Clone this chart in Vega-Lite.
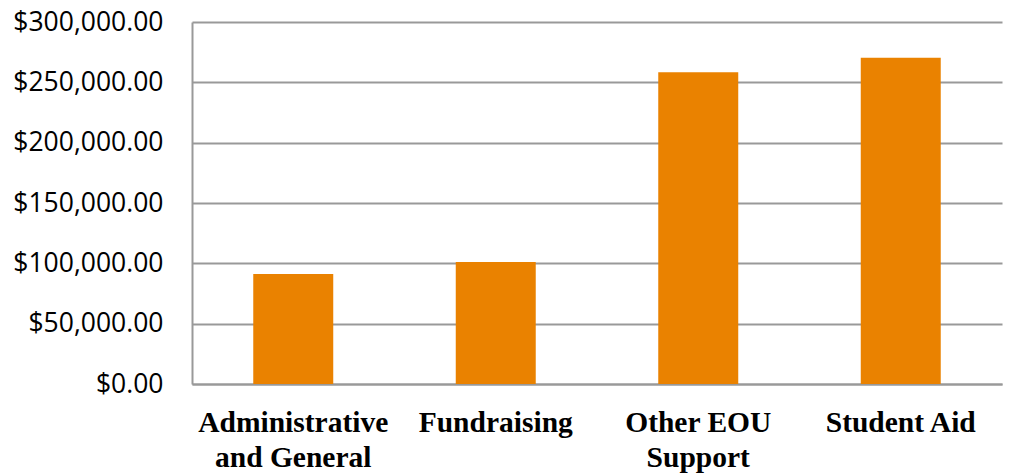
{
  "$schema": "https://vega.github.io/schema/vega-lite/v6.json",
  "autosize": {"type": "none"},
  "width": 810,
  "height": 362,
  "padding": {"left": 192, "top": 22, "right": 12, "bottom": 92},
  "background": "white",
  "data": {
    "values": [
      {"category": "Administrative and General", "amount": 91200},
      {"category": "Fundraising", "amount": 101100},
      {"category": "Other EOU Support", "amount": 258300},
      {"category": "Student Aid", "amount": 270400}
    ]
  },
  "mark": {"type": "bar", "color": "#EA8200"},
  "encoding": {
    "x": {
      "field": "category",
      "type": "nominal",
      "sort": null,
      "scale": {"paddingInner": 0.605, "paddingOuter": 0.3025},
      "axis": {
        "title": null,
        "labelAngle": 0,
        "labelFont": "Liberation Serif",
        "labelFontWeight": "bold",
        "labelFontSize": 29.5,
        "labelColor": "#000000",
        "labelPadding": 24,
        "labelLimit": 0,
        "labelLineHeight": 35,
        "labelBaseline": "top",
        "labelExpr": "datum.label == 'Administrative and General' ? ['Administrative', 'and General'] : datum.label == 'Other EOU Support' ? ['Other EOU', 'Support'] : datum.label",
        "ticks": false,
        "domainColor": "#999999",
        "domainWidth": 2,
        "grid": false
      }
    },
    "y": {
      "field": "amount",
      "type": "quantitative",
      "scale": {"domain": [0, 300000], "nice": false},
      "axis": {
        "title": null,
        "values": [0, 50000, 100000, 150000, 200000, 250000, 300000],
        "format": "$,.2f",
        "labelFont": "Open Sans",
        "labelFontSize": 26.5,
        "labelColor": "#000000",
        "labelPadding": 29,
        "ticks": false,
        "domainColor": "#999999",
        "domainWidth": 2,
        "grid": true,
        "gridColor": "#999999",
        "gridWidth": 2
      }
    }
  },
  "config": {"view": {"stroke": null}}
}
